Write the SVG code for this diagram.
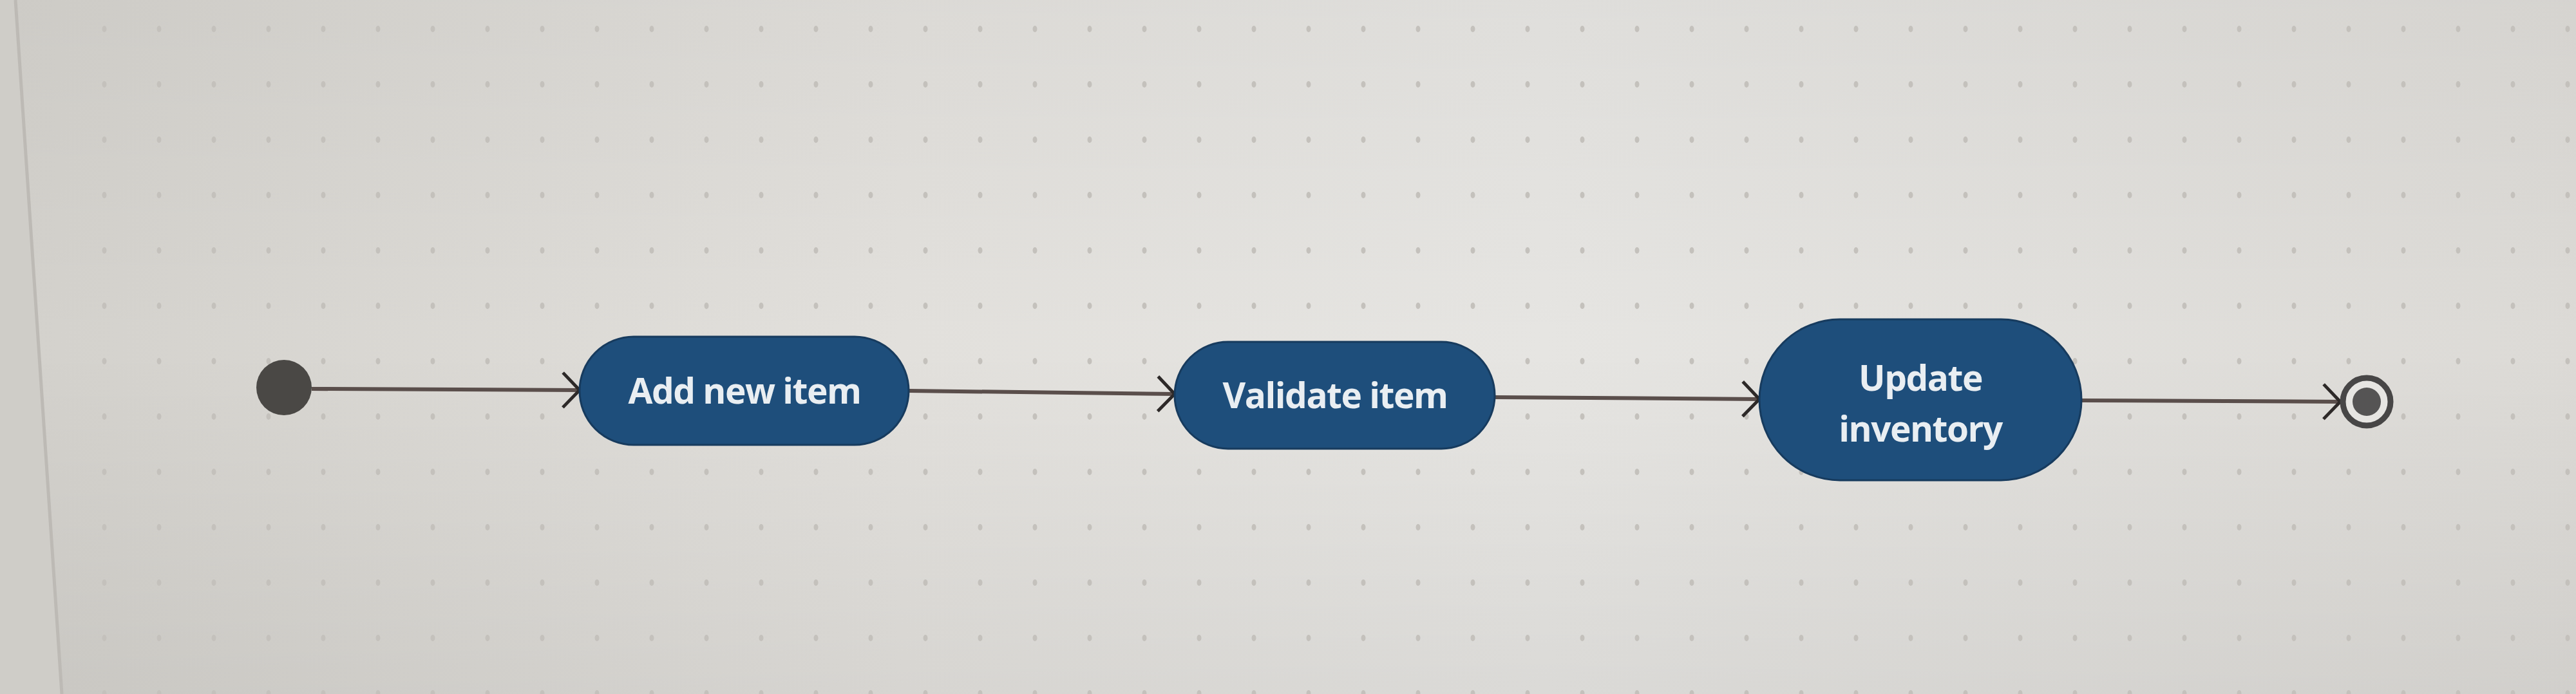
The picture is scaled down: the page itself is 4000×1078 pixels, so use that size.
<svg xmlns="http://www.w3.org/2000/svg" width="4000" height="1078" viewBox="0 0 4000 1078">
  <defs>
    <linearGradient id="bg" x1="0" y1="0" x2="1" y2="0">
      <stop offset="0" stop-color="#d3d1cc"/>
      <stop offset="0.35" stop-color="#e2e0dc"/>
      <stop offset="0.6" stop-color="#e6e5e2"/>
      <stop offset="1" stop-color="#dcdad6"/>
    </linearGradient>
    <linearGradient id="shade" x1="0" y1="0" x2="0" y2="1">
      <stop offset="0" stop-color="#000" stop-opacity="0.03"/>
      <stop offset="0.5" stop-color="#000" stop-opacity="0"/>
      <stop offset="1" stop-color="#000" stop-opacity="0.05"/>
    </linearGradient>
    <pattern id="dots" x="77" y="45" width="85" height="86" patternUnits="userSpaceOnUse">
      <ellipse cx="0" cy="0" rx="3.5" ry="5" fill="#c4c1bc"/>
      <ellipse cx="85" cy="0" rx="3.5" ry="5" fill="#c4c1bc"/>
      <ellipse cx="0" cy="86" rx="3.5" ry="5" fill="#c4c1bc"/>
      <ellipse cx="85" cy="86" rx="3.5" ry="5" fill="#c4c1bc"/>
    </pattern>
    <marker id="arr" viewBox="-34 -34 40 68" refX="0" refY="0" markerWidth="40" markerHeight="68" markerUnits="userSpaceOnUse" orient="auto">
      <path d="M-26,-27 L0,0 L-26,27" fill="none" stroke="#2d2928" stroke-width="5" stroke-linejoin="miter"/>
    </marker>
    <style>
      .act { fill: #1e4e7b; stroke: #173b5e; stroke-width: 3; }
      .lbl { font-family: "Open Sans", "Noto Sans", sans-serif; font-weight: 700; font-size: 55px; fill: #e9eef2; text-anchor: middle; letter-spacing: -1.5px; }
      .edge { fill: none; stroke: #5a4e4b; stroke-width: 6; marker-end: url(#arr); }
    </style>
  </defs>

  <rect x="0" y="0" width="4000" height="1078" fill="url(#bg)"/>
  <rect x="0" y="0" width="4000" height="1078" fill="url(#shade)"/>
  <rect x="90" y="0" width="3910" height="1078" fill="url(#dots)"/>
  <polygon points="0,0 24,0 96,1078 0,1078" fill="#cfcdc8"/>
  <line x1="24" y1="0" x2="96" y2="1078" stroke="#bdbab5" stroke-width="5"/>

  <g id="connectors">
    <path class="edge" d="M484,604 L900,606"/>
    <path class="edge" d="M1411,607 L1824,612"/>
    <path class="edge" d="M2321,617 L2732,620"/>
    <path class="edge" d="M3232,622 L3634,624"/>
  </g>

  <g id="start">
    <circle cx="441" cy="602" r="43" fill="#4a4845"/>
  </g>

  <g id="add-new-item">
    <rect class="act" x="900" y="523" width="511" height="168" rx="84" ry="84"/>
    <text class="lbl" x="1156" y="627">Add new item</text>
  </g>

  <g id="validate-item">
    <rect class="act" x="1824" y="531" width="497" height="166" rx="83" ry="83"/>
    <text class="lbl" x="2073" y="634">Validate item</text>
  </g>

  <g id="update-inventory">
    <rect class="act" x="2732" y="496" width="500" height="250" rx="125" ry="125"/>
    <text class="lbl" x="2982" y="607">Update</text>
    <text class="lbl" x="2982" y="686">inventory</text>
  </g>

  <g id="end">
    <circle cx="3675" cy="624" r="37" fill="#e6e5e2" stroke="#474646" stroke-width="9"/>
    <circle cx="3675" cy="624" r="22" fill="#555454"/>
  </g>
</svg>
